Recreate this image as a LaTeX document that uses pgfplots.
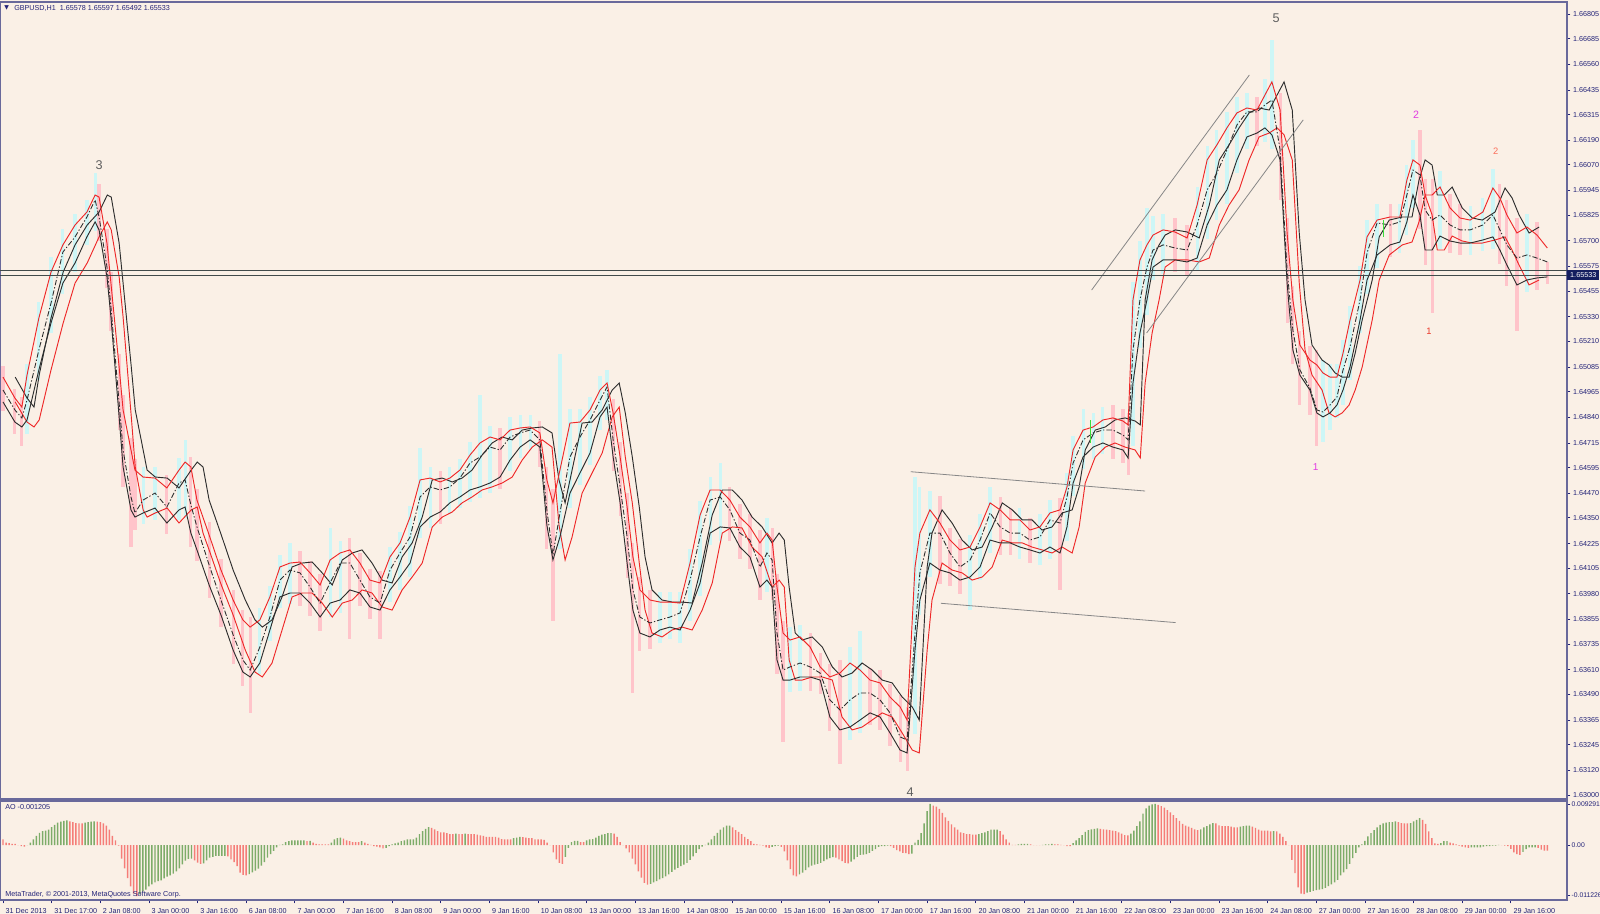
\documentclass[border=0pt]{standalone}
\usepackage{pgfplots}
\pgfplotsset{compat=1.18}
\usepackage{pgfplotstable}
\usepackage{fontspec}
\setmainfont{Liberation Sans}
\newfontfamily\dejavu{DejaVu Sans}

\definecolor{bg}{RGB}{250,240,230}
\definecolor{navy}{RGB}{35,35,120}
\definecolor{frame}{RGB}{105,105,155}
\definecolor{cup}{RGB}{205,246,246}
\definecolor{cdn}{RGB}{255,196,202}
\definecolor{aog}{RGB}{125,172,105}
\definecolor{aor}{RGB}{245,125,120}
\definecolor{mared}{RGB}{238,40,40}
\definecolor{mablack}{RGB}{45,45,45}
\definecolor{trend}{RGB}{135,135,135}
\definecolor{hline}{RGB}{65,75,75}
\definecolor{wavegray}{RGB}{95,95,95}
\definecolor{wavemag}{RGB}{225,60,225}
\definecolor{wavesal}{RGB}{250,110,90}
\definecolor{wavered}{RGB}{235,55,40}
\definecolor{zzgreen}{RGB}{60,220,60}
\definecolor{boxnavy}{RGB}{20,30,95}

\newcommand{\mtfont}{\fontsize{5.4}{6.5}\selectfont}
\newcommand{\aofont}{\fontsize{5.1}{6}\selectfont}

% b = bar index (H1 bars), U = upper MA, C = middle (dash-dot) MA, L = lower MA, hi/lo = candle range, d = 1 up candle
\pgfplotstableread[row sep=\\]{
b U C L hi lo d\\
0.0 1.65036 1.64973 1.64915 1.65090 1.64870 0\\
3.9 1.64934 1.64876 1.64817 1.64980 1.64760 0\\
6.2 1.64890 1.64837 1.64793 1.64940 1.64700 0\\
7.9 1.65046 1.64924 1.64827 1.65100 1.64760 1\\
11.8 1.65324 1.65168 1.65071 1.65400 1.65020 1\\
15.8 1.65548 1.65397 1.65300 1.65620 1.65250 1\\
19.7 1.65680 1.65645 1.65494 1.65760 1.65440 1\\
23.7 1.65777 1.65719 1.65592 1.65830 1.65550 1\\
27.6 1.65840 1.65816 1.65719 1.65900 1.65680 1\\
30.3 1.65923 1.65899 1.65792 1.66030 1.65750 1\\
31.6 1.65913 1.65816 1.65753 1.65980 1.65700 0\\
34.2 1.65689 1.65572 1.65524 1.65760 1.65470 0\\
35.5 1.65494 1.65378 1.65329 1.65550 1.65260 0\\
38.2 1.65085 1.64910 1.64842 1.65150 1.64780 0\\
39.5 1.64876 1.64681 1.64598 1.64950 1.64500 0\\
42.1 1.64681 1.64452 1.64389 1.64740 1.64210 0\\
43.4 1.64583 1.64374 1.64354 1.64640 1.64290 0\\
46.1 1.64549 1.64437 1.64374 1.64600 1.64320 1\\
50.0 1.64544 1.64471 1.64398 1.64600 1.64340 1\\
53.9 1.64496 1.64403 1.64325 1.64560 1.64270 0\\
57.9 1.64583 1.64520 1.64389 1.64640 1.64340 1\\
59.9 1.64622 1.64535 1.64403 1.64730 1.64350 1\\
61.8 1.64598 1.64413 1.64276 1.64650 1.64210 0\\
63.8 1.64437 1.64306 1.64194 1.64490 1.64140 0\\
67.8 1.64267 1.64121 1.64023 1.64330 1.63960 0\\
71.7 1.64096 1.63950 1.63877 1.64150 1.63820 0\\
75.7 1.63950 1.63780 1.63706 1.64000 1.63640 0\\
78.9 1.63853 1.63658 1.63599 1.63900 1.63530 0\\
81.3 1.63818 1.63609 1.63575 1.63870 1.63400 0\\
84.5 1.63853 1.63721 1.63643 1.63910 1.63590 1\\
87.8 1.63965 1.63867 1.63804 1.64020 1.63750 1\\
91.1 1.64111 1.64047 1.63965 1.64170 1.63910 1\\
94.4 1.64130 1.64096 1.63984 1.64230 1.63930 1\\
97.7 1.64135 1.64082 1.63984 1.64190 1.63920 0\\
101.0 1.64082 1.64013 1.63935 1.64140 1.63870 0\\
104.3 1.64023 1.63935 1.63867 1.64080 1.63800 0\\
107.6 1.64145 1.64033 1.63935 1.64300 1.63870 1\\
110.9 1.64179 1.64130 1.63950 1.64240 1.63890 1\\
114.1 1.64194 1.64130 1.63999 1.64250 1.63760 0\\
117.4 1.64130 1.64047 1.63984 1.64180 1.63920 0\\
120.7 1.64047 1.63965 1.63916 1.64100 1.63860 0\\
124.0 1.64033 1.63935 1.63901 1.64090 1.63760 0\\
127.3 1.64160 1.64096 1.63999 1.64210 1.63940 1\\
130.6 1.64228 1.64179 1.64062 1.64280 1.64000 1\\
133.9 1.64354 1.64257 1.64130 1.64410 1.64060 1\\
137.2 1.64535 1.64452 1.64306 1.64690 1.64250 1\\
140.5 1.64544 1.64501 1.64354 1.64600 1.64300 1\\
143.8 1.64525 1.64486 1.64379 1.64580 1.64320 0\\
147.0 1.64544 1.64501 1.64423 1.64600 1.64370 1\\
150.3 1.64583 1.64544 1.64452 1.64640 1.64400 1\\
153.6 1.64656 1.64617 1.64486 1.64720 1.64430 1\\
156.9 1.64715 1.64647 1.64501 1.64950 1.64450 1\\
160.2 1.64744 1.64695 1.64520 1.64800 1.64470 1\\
163.5 1.64730 1.64681 1.64549 1.64790 1.64490 0\\
166.8 1.64778 1.64744 1.64632 1.64840 1.64580 1\\
170.1 1.64788 1.64764 1.64695 1.64850 1.64640 1\\
173.4 1.64793 1.64778 1.64730 1.64850 1.64680 1\\
176.6 1.64764 1.64730 1.64695 1.64820 1.64600 0\\
178.9 1.64535 1.64389 1.64315 1.64600 1.64200 0\\
180.9 1.64423 1.64169 1.64145 1.64490 1.63850 0\\
183.2 1.64583 1.64374 1.64257 1.65150 1.64200 1\\
186.5 1.64812 1.64647 1.64471 1.64880 1.64400 1\\
189.8 1.64817 1.64744 1.64569 1.64880 1.64510 1\\
193.1 1.64876 1.64827 1.64666 1.64940 1.64610 1\\
196.4 1.64973 1.64924 1.64842 1.65040 1.64780 1\\
198.7 1.65007 1.64988 1.64890 1.65070 1.64830 1\\
200.7 1.64861 1.64730 1.64647 1.64930 1.64580 0\\
203.0 1.64647 1.64501 1.64423 1.64720 1.64360 0\\
205.3 1.64403 1.64257 1.64130 1.64470 1.64060 0\\
207.2 1.64160 1.63999 1.63901 1.64230 1.63500 0\\
209.5 1.63999 1.63867 1.63789 1.64060 1.63700 0\\
212.8 1.63950 1.63838 1.63770 1.64000 1.63710 0\\
216.1 1.63940 1.63853 1.63804 1.63990 1.63740 1\\
219.4 1.63940 1.63867 1.63818 1.63990 1.63760 1\\
222.7 1.63935 1.63887 1.63804 1.63990 1.63740 1\\
226.0 1.64130 1.64047 1.63901 1.64200 1.63850 1\\
229.3 1.64364 1.64257 1.64033 1.64430 1.63970 1\\
232.6 1.64486 1.64437 1.64276 1.64550 1.64220 1\\
235.9 1.64486 1.64452 1.64306 1.64620 1.64240 1\\
239.1 1.64437 1.64389 1.64301 1.64500 1.64240 0\\
242.4 1.64354 1.64276 1.64208 1.64420 1.64150 0\\
245.7 1.64306 1.64242 1.64160 1.64370 1.64100 0\\
249.0 1.64228 1.64111 1.64013 1.64290 1.63950 0\\
251.3 1.64276 1.64179 1.64047 1.64350 1.63990 1\\
253.0 1.64242 1.64145 1.64013 1.64300 1.63950 0\\
254.6 1.64013 1.63789 1.63658 1.64080 1.63590 0\\
256.6 1.63789 1.63609 1.63560 1.63850 1.63260 0\\
258.9 1.63755 1.63624 1.63560 1.63820 1.63500 1\\
262.2 1.63770 1.63643 1.63575 1.63830 1.63510 1\\
265.5 1.63721 1.63624 1.63575 1.63790 1.63510 0\\
268.8 1.63624 1.63594 1.63560 1.63690 1.63490 0\\
272.0 1.63575 1.63463 1.63380 1.63640 1.63310 0\\
275.3 1.63594 1.63414 1.63317 1.63660 1.63150 0\\
278.6 1.63643 1.63463 1.63331 1.63720 1.63270 1\\
281.9 1.63609 1.63497 1.63365 1.63800 1.63300 1\\
285.2 1.63560 1.63497 1.63400 1.63620 1.63340 0\\
288.5 1.63546 1.63463 1.63380 1.63610 1.63320 0\\
291.8 1.63477 1.63400 1.63302 1.63540 1.63240 0\\
295.1 1.63429 1.63283 1.63219 1.63490 1.63160 0\\
297.4 1.63365 1.63268 1.63205 1.63430 1.63120 0\\
300.0 1.64111 1.63789 1.63706 1.64550 1.63300 1\\
301.6 1.64276 1.64082 1.63950 1.64500 1.63880 1\\
304.9 1.64389 1.64276 1.64130 1.64480 1.64060 1\\
308.2 1.64325 1.64276 1.64096 1.64460 1.64030 0\\
311.5 1.64242 1.64179 1.64082 1.64300 1.64020 0\\
314.8 1.64194 1.64111 1.64047 1.64250 1.63980 0\\
318.1 1.64208 1.64145 1.64062 1.64270 1.63900 1\\
321.4 1.64306 1.64242 1.64111 1.64370 1.64050 1\\
324.7 1.64423 1.64374 1.64242 1.64500 1.64180 1\\
328.0 1.64389 1.64306 1.64228 1.64450 1.64170 0\\
331.3 1.64340 1.64276 1.64228 1.64400 1.64170 0\\
334.5 1.64340 1.64276 1.64208 1.64400 1.64150 1\\
337.8 1.64291 1.64242 1.64194 1.64350 1.64130 0\\
341.1 1.64306 1.64257 1.64179 1.64370 1.64120 1\\
344.4 1.64374 1.64340 1.64208 1.64440 1.64150 1\\
347.7 1.64389 1.64325 1.64179 1.64450 1.64000 0\\
350.0 1.64501 1.64452 1.64306 1.64570 1.64240 1\\
352.0 1.64681 1.64617 1.64520 1.64750 1.64460 1\\
355.3 1.64778 1.64730 1.64647 1.64880 1.64590 1\\
358.6 1.64793 1.64764 1.64695 1.64860 1.64640 1\\
361.8 1.64827 1.64778 1.64715 1.64890 1.64660 1\\
365.1 1.64837 1.64778 1.64695 1.64900 1.64640 0\\
368.4 1.64822 1.64754 1.64681 1.64880 1.64620 0\\
370.1 1.64803 1.64730 1.64642 1.64860 1.64560 0\\
371.7 1.65412 1.65168 1.65007 1.65500 1.64700 1\\
374.0 1.65607 1.65412 1.65251 1.65700 1.65180 1\\
376.3 1.65680 1.65572 1.65412 1.65860 1.65340 1\\
378.3 1.65728 1.65655 1.65572 1.65820 1.65510 1\\
381.6 1.65753 1.65680 1.65607 1.65830 1.65540 1\\
385.5 1.65743 1.65665 1.65607 1.65810 1.65550 0\\
389.5 1.65714 1.65655 1.65597 1.65780 1.65530 0\\
392.8 1.65874 1.65777 1.65616 1.65960 1.65560 1\\
396.1 1.66094 1.65948 1.65777 1.66160 1.65710 1\\
399.3 1.66167 1.66030 1.65874 1.66240 1.65800 1\\
402.6 1.66250 1.66142 1.65948 1.66330 1.65880 1\\
405.9 1.66323 1.66264 1.66094 1.66400 1.66030 1\\
409.2 1.66347 1.66328 1.66206 1.66420 1.66150 1\\
412.5 1.66337 1.66328 1.66225 1.66400 1.66160 0\\
415.1 1.66410 1.66362 1.66250 1.66490 1.66180 1\\
417.4 1.66474 1.66386 1.66216 1.66680 1.66150 1\\
420.1 1.66337 1.66142 1.66094 1.66420 1.65900 0\\
422.4 1.65738 1.65558 1.65494 1.65810 1.65300 0\\
424.3 1.65412 1.65265 1.65168 1.65480 1.65100 0\\
426.6 1.65192 1.65071 1.65046 1.65260 1.64900 0\\
429.9 1.65119 1.64983 1.64973 1.65190 1.64850 0\\
432.2 1.65095 1.64876 1.64861 1.65170 1.64700 0\\
434.2 1.65056 1.64866 1.64842 1.65120 1.64720 1\\
436.5 1.65036 1.64900 1.64861 1.65100 1.64780 1\\
438.8 1.65036 1.64939 1.64900 1.65100 1.64840 1\\
440.8 1.65153 1.65071 1.64973 1.65220 1.64900 1\\
443.1 1.65314 1.65183 1.65085 1.65380 1.65020 1\\
446.4 1.65509 1.65412 1.65314 1.65580 1.65250 1\\
448.7 1.65719 1.65641 1.65509 1.65800 1.65440 1\\
452.0 1.65801 1.65787 1.65631 1.65880 1.65570 1\\
456.3 1.65816 1.65777 1.65680 1.65880 1.65620 0\\
459.5 1.65816 1.65792 1.65694 1.65880 1.65640 1\\
461.8 1.65996 1.65923 1.65792 1.66070 1.65730 1\\
463.8 1.66094 1.66045 1.65923 1.66190 1.65860 1\\
466.1 1.66069 1.66021 1.65826 1.66240 1.65760 0\\
467.8 1.65923 1.65850 1.65655 1.66000 1.65580 0\\
470.1 1.65923 1.65801 1.65655 1.66000 1.65350 0\\
472.7 1.65962 1.65826 1.65723 1.66040 1.65660 1\\
476.0 1.65860 1.65777 1.65699 1.65930 1.65640 0\\
479.3 1.65811 1.65753 1.65689 1.65880 1.65630 0\\
482.6 1.65801 1.65753 1.65689 1.65870 1.65630 1\\
486.8 1.65840 1.65777 1.65704 1.65910 1.65650 1\\
490.1 1.65957 1.65826 1.65719 1.66050 1.65660 1\\
492.4 1.65909 1.65753 1.65655 1.65980 1.65590 0\\
494.7 1.65826 1.65680 1.65582 1.65900 1.65480 0\\
498.0 1.65738 1.65616 1.65485 1.65810 1.65260 0\\
501.3 1.65767 1.65631 1.65509 1.65830 1.65450 1\\
504.6 1.65728 1.65616 1.65519 1.65790 1.65460 0\\
508.0 1.65665 1.65597 1.65524 1.65597 1.65492 0\\
}\mainT

% Awesome Oscillator, one row per bar (v = value, g = 1 rising / 0 falling)
\pgfplotstableread[row sep=\\]{
v g\\
0.0013 0\\ 0.0006 0\\ 0.0005 0\\ 0.0003 0\\ 0.0003 0\\ 0 0\\ -0.0002 0\\ -0.0003 0\\ 0 1\\ 0.0006 1\\
0.0013 1\\ 0.0021 1\\ 0.0028 1\\ 0.0032 1\\ 0.0033 1\\ 0.0035 1\\ 0.0041 1\\ 0.0046 1\\ 0.0051 1\\ 0.0053 1\\
0.0055 1\\ 0.0056 1\\ 0.0054 0\\ 0.0052 0\\ 0.0050 0\\ 0.0049 0\\ 0.0049 0\\ 0.0051 1\\ 0.0052 1\\ 0.0053 1\\
0.0054 1\\ 0.0053 0\\ 0.0052 0\\ 0.0049 0\\ 0.0044 0\\ 0.0035 0\\ 0.0021 0\\ 0.0011 0\\ -0.0001 0\\ -0.0030 0\\
-0.0052 0\\ -0.0074 0\\ -0.0093 0\\ -0.0109 0\\ -0.0115 0\\ -0.0111 1\\ -0.0104 1\\ -0.0100 1\\ -0.0093 1\\ -0.0088 1\\
-0.0084 1\\ -0.0081 1\\ -0.0079 1\\ -0.0075 1\\ -0.0071 1\\ -0.0068 1\\ -0.0064 1\\ -0.0059 1\\ -0.0052 1\\ -0.0043 1\\
-0.0035 1\\ -0.0031 1\\ -0.0030 1\\ -0.0034 0\\ -0.0039 0\\ -0.0042 0\\ -0.0041 1\\ -0.0034 1\\ -0.0028 1\\ -0.0026 1\\
-0.0024 1\\ -0.0024 1\\ -0.0024 1\\ -0.0024 1\\ -0.0025 0\\ -0.0032 0\\ -0.0038 0\\ -0.0047 0\\ -0.0062 0\\ -0.0067 0\\
-0.0068 0\\ -0.0065 1\\ -0.0061 1\\ -0.0057 1\\ -0.0053 1\\ -0.0046 1\\ -0.0038 1\\ -0.0028 1\\ -0.0020 1\\ -0.0013 1\\
-0.0005 1\\ 0.0001 1\\ 0.0002 1\\ 0.0007 1\\ 0.0009 1\\ 0.0011 1\\ 0.0011 1\\ 0.0011 1\\ 0.0011 1\\ 0.0011 1\\
0.0009 0\\ 0.0010 1\\ 0.0006 0\\ 0.0003 0\\ 0.0002 0\\ 0.0002 0\\ 0.0002 0\\ 0.0002 0\\ 0.0006 1\\ 0.0013 1\\
0.0016 1\\ 0.0017 1\\ 0.0015 0\\ 0.0011 0\\ 0.0009 0\\ 0.0007 0\\ 0.0007 0\\ 0.0007 0\\ 0.0009 1\\ 0.0006 0\\
0.0003 0\\ 0.0001 0\\ -0.0002 0\\ -0.0003 0\\ -0.0005 0\\ -0.0007 0\\ -0.0006 1\\ -0.0002 1\\ 0.0002 1\\ 0.0004 1\\
0.0006 1\\ 0.0009 1\\ 0.0011 1\\ 0.0013 1\\ 0.0013 1\\ 0.0013 1\\ 0.0017 1\\ 0.0025 1\\ 0.0032 1\\ 0.0037 1\\
0.0041 1\\ 0.0039 0\\ 0.0036 0\\ 0.0032 0\\ 0.0029 0\\ 0.0029 0\\ 0.0027 0\\ 0.0025 0\\ 0.0025 0\\ 0.0026 1\\
0.0025 0\\ 0.0025 0\\ 0.0026 1\\ 0.0025 0\\ 0.0025 0\\ 0.0025 0\\ 0.0024 0\\ 0.0022 0\\ 0.0021 0\\ 0.0019 0\\
0.0019 0\\ 0.0019 0\\ 0.0019 0\\ 0.0017 0\\ 0.0014 0\\ 0.0013 0\\ 0.0013 0\\ 0.0013 0\\ 0.0016 1\\ 0.0017 1\\
0.0019 1\\ 0.0018 0\\ 0.0017 0\\ 0.0016 0\\ 0.0016 0\\ 0.0013 0\\ 0.0013 0\\ 0.0013 0\\ 0.0012 0\\ 0.0006 0\\
0 0\\ -0.0016 0\\ -0.0032 0\\ -0.0040 0\\ -0.0042 0\\ -0.0026 1\\ -0.0006 1\\ 0.0007 1\\ 0.0010 1\\ 0.0010 1\\
0.0007 0\\ 0.0007 0\\ 0.0011 1\\ 0.0013 1\\ 0.0014 1\\ 0.0017 1\\ 0.0021 1\\ 0.0024 1\\ 0.0025 1\\ 0.0027 1\\
0.0027 1\\ 0.0026 0\\ 0.0019 0\\ 0.0007 0\\ 0 0\\ -0.0007 0\\ -0.0016 0\\ -0.0030 0\\ -0.0043 0\\ -0.0059 0\\
-0.0073 0\\ -0.0085 0\\ -0.0089 0\\ -0.0087 1\\ -0.0084 1\\ -0.0081 1\\ -0.0077 1\\ -0.0074 1\\ -0.0070 1\\ -0.0066 1\\
-0.0060 1\\ -0.0055 1\\ -0.0051 1\\ -0.0047 1\\ -0.0044 1\\ -0.0040 1\\ -0.0033 1\\ -0.0025 1\\ -0.0017 1\\ -0.0009 1\\
-0.0003 1\\ 0.0001 1\\ 0.0006 1\\ 0.0013 1\\ 0.0021 1\\ 0.0028 1\\ 0.0035 1\\ 0.0040 1\\ 0.0044 1\\ 0.0044 1\\
0.0040 0\\ 0.0034 0\\ 0.0030 0\\ 0.0025 0\\ 0.0019 0\\ 0.0014 0\\ 0.0009 0\\ 0.0003 0\\ 0.0002 0\\ 0.0001 0\\
-0.0001 0\\ -0.0005 0\\ -0.0006 0\\ -0.0004 1\\ -0.0002 1\\ -0.0001 1\\ -0.0004 0\\ -0.0014 0\\ -0.0034 0\\ -0.0054 0\\
-0.0068 0\\ -0.0070 0\\ -0.0066 1\\ -0.0062 1\\ -0.0056 1\\ -0.0050 1\\ -0.0046 1\\ -0.0044 1\\ -0.0042 1\\ -0.0040 1\\
-0.0036 1\\ -0.0032 1\\ -0.0029 1\\ -0.0027 1\\ -0.0028 0\\ -0.0032 0\\ -0.0036 0\\ -0.0040 0\\ -0.0041 0\\ -0.0037 1\\
-0.0032 1\\ -0.0026 1\\ -0.0022 1\\ -0.0021 1\\ -0.0020 1\\ -0.0017 1\\ -0.0013 1\\ -0.0009 1\\ -0.0004 1\\ -0.0002 1\\
-0.0002 1\\ -0.0001 1\\ -0.0002 0\\ -0.0006 0\\ -0.0011 0\\ -0.0014 0\\ -0.0017 0\\ -0.0018 0\\ -0.0020 0\\ -0.0019 1\\
0.0006 1\\ 0.0012 1\\ 0.0027 1\\ 0.0049 1\\ 0.0077 1\\ 0.0093 1\\ 0.0089 0\\ 0.0087 0\\ 0.0082 0\\ 0.0073 0\\
0.0063 0\\ 0.0055 0\\ 0.0047 0\\ 0.0040 0\\ 0.0035 0\\ 0.0029 0\\ 0.0027 0\\ 0.0025 0\\ 0.0025 0\\ 0.0024 0\\
0.0024 0\\ 0.0025 1\\ 0.0027 1\\ 0.0029 1\\ 0.0032 1\\ 0.0035 1\\ 0.0035 1\\ 0.0035 1\\ 0.0032 0\\ 0.0024 0\\
0.0013 0\\ 0.0006 0\\ 0.0001 0\\ 0.0001 0\\ 0.0002 1\\ 0.0003 1\\ 0.0003 1\\ 0.0003 1\\ 0.0002 0\\ 0 0\\
0 0\\ 0 0\\ 0.0001 1\\ 0.0002 1\\ 0.0002 1\\ 0.0003 1\\ 0.0002 0\\ 0.0002 0\\ 0.0001 0\\ 0 0\\
-0.0002 0\\ -0.0002 0\\ 0.0005 1\\ 0.0011 1\\ 0.0016 1\\ 0.0023 1\\ 0.0030 1\\ 0.0034 1\\ 0.0036 1\\ 0.0037 1\\
0.0038 1\\ 0.0037 0\\ 0.0036 0\\ 0.0035 0\\ 0.0034 0\\ 0.0033 0\\ 0.0032 0\\ 0.0029 0\\ 0.0026 0\\ 0.0023 0\\
0.0022 0\\ 0.0026 1\\ 0.0033 1\\ 0.0043 1\\ 0.0054 1\\ 0.0071 1\\ 0.0083 1\\ 0.0089 1\\ 0.0092 1\\ 0.0093 1\\
0.0091 0\\ 0.0088 0\\ 0.0085 0\\ 0.0079 0\\ 0.0074 0\\ 0.0068 0\\ 0.0061 0\\ 0.0055 0\\ 0.0048 0\\ 0.0044 0\\
0.0042 0\\ 0.0039 0\\ 0.0036 0\\ 0.0034 0\\ 0.0036 1\\ 0.0040 1\\ 0.0043 1\\ 0.0047 1\\ 0.0050 1\\ 0.0049 0\\
0.0045 0\\ 0.0043 0\\ 0.0043 0\\ 0.0043 0\\ 0.0042 0\\ 0.0040 0\\ 0.0040 0\\ 0.0042 1\\ 0.0043 1\\ 0.0044 1\\
0.0044 1\\ 0.0042 0\\ 0.0039 0\\ 0.0035 0\\ 0.0033 0\\ 0.0033 0\\ 0.0033 0\\ 0.0031 0\\ 0.0032 1\\ 0.0031 0\\
0.0026 0\\ 0.0019 0\\ 0.0009 0\\ 0 0\\ -0.0033 0\\ -0.0063 0\\ -0.0095 0\\ -0.0109 0\\ -0.0110 0\\ -0.0107 1\\
-0.0105 1\\ -0.0103 1\\ -0.0101 1\\ -0.0100 1\\ -0.0099 1\\ -0.0096 1\\ -0.0092 1\\ -0.0088 1\\ -0.0084 1\\ -0.0078 1\\
-0.0068 1\\ -0.0061 1\\ -0.0054 1\\ -0.0042 1\\ -0.0029 1\\ -0.0017 1\\ -0.0005 1\\ 0.0002 1\\ 0.0010 1\\ 0.0020 1\\
0.0027 1\\ 0.0034 1\\ 0.0040 1\\ 0.0046 1\\ 0.0049 1\\ 0.0051 1\\ 0.0052 1\\ 0.0052 1\\ 0.0054 1\\ 0.0052 0\\
0.0050 0\\ 0.0049 0\\ 0.0049 0\\ 0.0050 1\\ 0.0054 1\\ 0.0057 1\\ 0.0061 1\\ 0.0057 0\\ 0.0048 0\\ 0.0031 0\\
0.0016 0\\ 0.0004 0\\ 0.0003 0\\ 0.0005 1\\ 0.0009 1\\ 0.0009 1\\ 0.0006 0\\ 0.0004 0\\ 0.0002 0\\ -0.0001 0\\
-0.0003 0\\ -0.0005 0\\ -0.0006 0\\ -0.0005 1\\ -0.0005 1\\ -0.0005 1\\ -0.0005 1\\ -0.0003 1\\ -0.0002 1\\ -0.0002 1\\
-0.0001 1\\ -0.0001 1\\ 0.0001 1\\ 0 0\\ -0.0001 0\\ -0.0002 0\\ -0.0008 0\\ -0.0016 0\\ -0.0020 0\\ -0.0022 0\\
-0.0015 1\\ -0.0009 1\\ -0.0005 1\\ -0.0005 1\\ -0.0005 1\\ -0.0006 0\\ -0.0010 0\\ -0.0012 0\\ -0.0012 0\\
}\aoT

\begin{document}
\begin{tikzpicture}
\fill[bg] (0pt,0pt) rectangle (1200pt,685.5pt);
\useasboundingbox (0pt,0pt) rectangle (1200pt,685.5pt);

% ---------------- main price panel ----------------
\begin{axis}[
  at={(0pt,86.25pt)}, anchor=south west, scale only axis,
  width=1175.25pt, height=597.75pt,
  xmin=-0.99, xmax=514.47, ymin=1.629805, ymax=1.668634,
  axis line style={draw=frame, line width=0.8pt},
  xtick=\empty,
  ytick={1.63000,1.63120,1.63245,1.63365,1.63490,1.63610,1.63735,1.63855,1.63980,1.64105,1.64225,1.64350,1.64470,1.64595,1.64715,1.64840,1.64965,1.65085,1.65210,1.65330,1.65455,1.65575,1.65700,1.65825,1.65945,1.66070,1.66190,1.66315,1.66435,1.66560,1.66685,1.66805},
  yticklabels={1.63000,1.63120,1.63245,1.63365,1.63490,1.63610,1.63735,1.63855,1.63980,1.64105,1.64225,1.64350,1.64470,1.64595,1.64715,1.64840,1.64965,1.65085,1.65210,1.65330,1.65455,1.65575,1.65700,1.65825,1.65945,1.66070,1.66190,1.66315,1.66435,1.66560,1.66685,1.66805},
  ytick pos=right, yticklabel pos=right,
  tick align=outside, major tick length=2.5pt,
  tick style={draw=navy, line width=0.6pt},
  yticklabel style={font=\mtfont, text=navy, anchor=west, xshift=-1.5pt},
  scaled y ticks=false,
  clip mode=individual,
]
% candles (wicks)
\addplot[draw=none, mark=none, forget plot, restrict expr to domain={\thisrow{d}}{-0.5:0.5},
  error bars/.cd, y dir=both, y explicit, error mark=none,
  error bar style={draw=cdn, line width=2.4pt}]
  table[x=b, y expr=(\thisrow{hi}+\thisrow{lo})/2, y error expr=(\thisrow{hi}-\thisrow{lo})/2]{\mainT};
\addplot[draw=none, mark=none, forget plot, restrict expr to domain={\thisrow{d}}{0.5:1.5},
  error bars/.cd, y dir=both, y explicit, error mark=none,
  error bar style={draw=cup, line width=2.4pt}]
  table[x=b, y expr=(\thisrow{hi}+\thisrow{lo})/2, y error expr=(\thisrow{hi}-\thisrow{lo})/2]{\mainT};
% lagging channel
\addplot[mablack, line width=0.7pt, restrict x to domain=-2:508.5] table[x expr=\thisrow{b}+4, y=U]{\mainT};
\addplot[mared, line width=0.7pt, restrict x to domain=-2:508.5] table[x expr=\thisrow{b}+4, y=L]{\mainT};
% leading channel and middle line
\addplot[mablack, line width=0.65pt, dash pattern=on 4pt off 1.5pt on 1pt off 1.5pt] table[x=b, y=C]{\mainT};
\addplot[mared, line width=0.7pt] table[x=b, y=U]{\mainT};
\addplot[mablack, line width=0.7pt] table[x=b, y=L]{\mainT};
% trend lines
\addplot[trend, line width=0.6pt] coordinates {(358.1,1.65460) (410.0,1.66508)};
\addplot[trend, line width=0.6pt] coordinates {(376.2,1.65251) (427.7,1.66289)};
\addplot[trend, line width=0.6pt] coordinates {(298.6,1.64575) (375.7,1.64481)};
\addplot[trend, line width=0.6pt] coordinates {(308.5,1.63934) (385.7,1.63840)};
% horizontal price lines
\addplot[hline, line width=0.75pt] coordinates {(-1,1.65553) (514.47,1.65553)};
\addplot[hline, line width=0.75pt] coordinates {(-1,1.65531) (514.47,1.65531)};
% small green marks
\addplot[zzgreen, line width=0.6pt] coordinates {(357.6,1.64715) (357.6,1.64827)};
\addplot[zzgreen, line width=0.6pt] coordinates {(454.0,1.65719) (454.0,1.65801)};
% wave labels
\node[text=wavegray, font=\fontsize{9.5}{10}\selectfont] at (axis cs:31.6,1.66069) {3};
\node[text=wavegray, font=\fontsize{9.5}{10}\selectfont] at (axis cs:418.8,1.66786) {5};
\node[text=wavegray, font=\fontsize{9.5}{10}\selectfont] at (axis cs:298.4,1.63012) {4};
\node[text=wavemag, font=\fontsize{8}{9}\selectfont] at (axis cs:464.8,1.66313) {2};
\node[text=wavesal, font=\fontsize{7}{8}\selectfont] at (axis cs:491.0,1.66134) {2};
\node[text=wavemag, font=\fontsize{7.5}{8}\selectfont] at (axis cs:431.8,1.64600) {1};
\node[text=wavered, font=\fontsize{7}{8}\selectfont] at (axis cs:469.1,1.65257) {1};
% current price box
\node[fill=boxnavy, text=white, font=\mtfont, inner sep=0.8pt, anchor=west, minimum width=24pt, minimum height=7.5pt] at (axis cs:514.47,1.65533) {1.65533};
\end{axis}

% ---------------- AO panel ----------------
\begin{axis}[
  at={(0pt,10.5pt)}, anchor=south west, scale only axis,
  width=1175.25pt, height=74.25pt,
  xmin=-0.99, xmax=514.47, ymin=-0.01235, ymax=0.00997,
  axis line style={draw=frame, line width=0.8pt},
  ytick={-0.011226,0,0.009291}, yticklabels={-0.011226,0.00,0.009291},
  ytick pos=right, yticklabel pos=right,
  xtick={0,16,...,496},
  xticklabels={31 Dec 2013,31 Dec 17:00,2 Jan 08:00,3 Jan 00:00,3 Jan 16:00,6 Jan 08:00,7 Jan 00:00,7 Jan 16:00,8 Jan 08:00,9 Jan 00:00,9 Jan 16:00,10 Jan 08:00,13 Jan 00:00,13 Jan 16:00,14 Jan 08:00,15 Jan 00:00,15 Jan 16:00,16 Jan 08:00,17 Jan 00:00,17 Jan 16:00,20 Jan 08:00,21 Jan 00:00,21 Jan 16:00,22 Jan 08:00,23 Jan 00:00,23 Jan 16:00,24 Jan 08:00,27 Jan 00:00,27 Jan 16:00,28 Jan 08:00,29 Jan 00:00,29 Jan 16:00},
  xtick pos=bottom,
  tick align=outside, major tick length=2.5pt,
  tick style={draw=navy, line width=0.6pt},
  yticklabel style={font=\aofont, text=navy, anchor=west, xshift=-2.6pt},
  xticklabel style={font=\mtfont, text=navy, anchor=north west, xshift=-1.5pt},
  scaled y ticks=false,
  clip mode=individual,
]
\addplot[ybar, bar width=1.1pt, bar shift=0pt, draw=none, fill=aog, restrict expr to domain={\thisrow{g}}{0.5:1.5}] table[x expr=\coordindex, y=v]{\aoT};
\addplot[ybar, bar width=1.1pt, bar shift=0pt, draw=none, fill=aor, restrict expr to domain={\thisrow{g}}{-0.5:0.5}] table[x expr=\coordindex, y=v]{\aoT};
\end{axis}

% ---------------- header texts ----------------
\node[anchor=west, inner sep=0pt, text=navy, font=\fontsize{4.5}{5}\dejavu] at (3pt,679.5pt) {▼};
\node[anchor=west, inner sep=0pt, text=navy, font=\mtfont] at (10.5pt,679.5pt) {GBPUSD,H1\ \ 1.65578 1.65597 1.65492 1.65533};
\node[anchor=west, inner sep=0pt, text=navy, font=\mtfont] at (3.75pt,80.25pt) {AO -0.001205};
\node[anchor=west, inner sep=0pt, text=navy, font=\mtfont] at (3.75pt,14.25pt) {MetaTrader, © 2001-2013, MetaQuotes Software Corp.};
\end{tikzpicture}
\end{document}
